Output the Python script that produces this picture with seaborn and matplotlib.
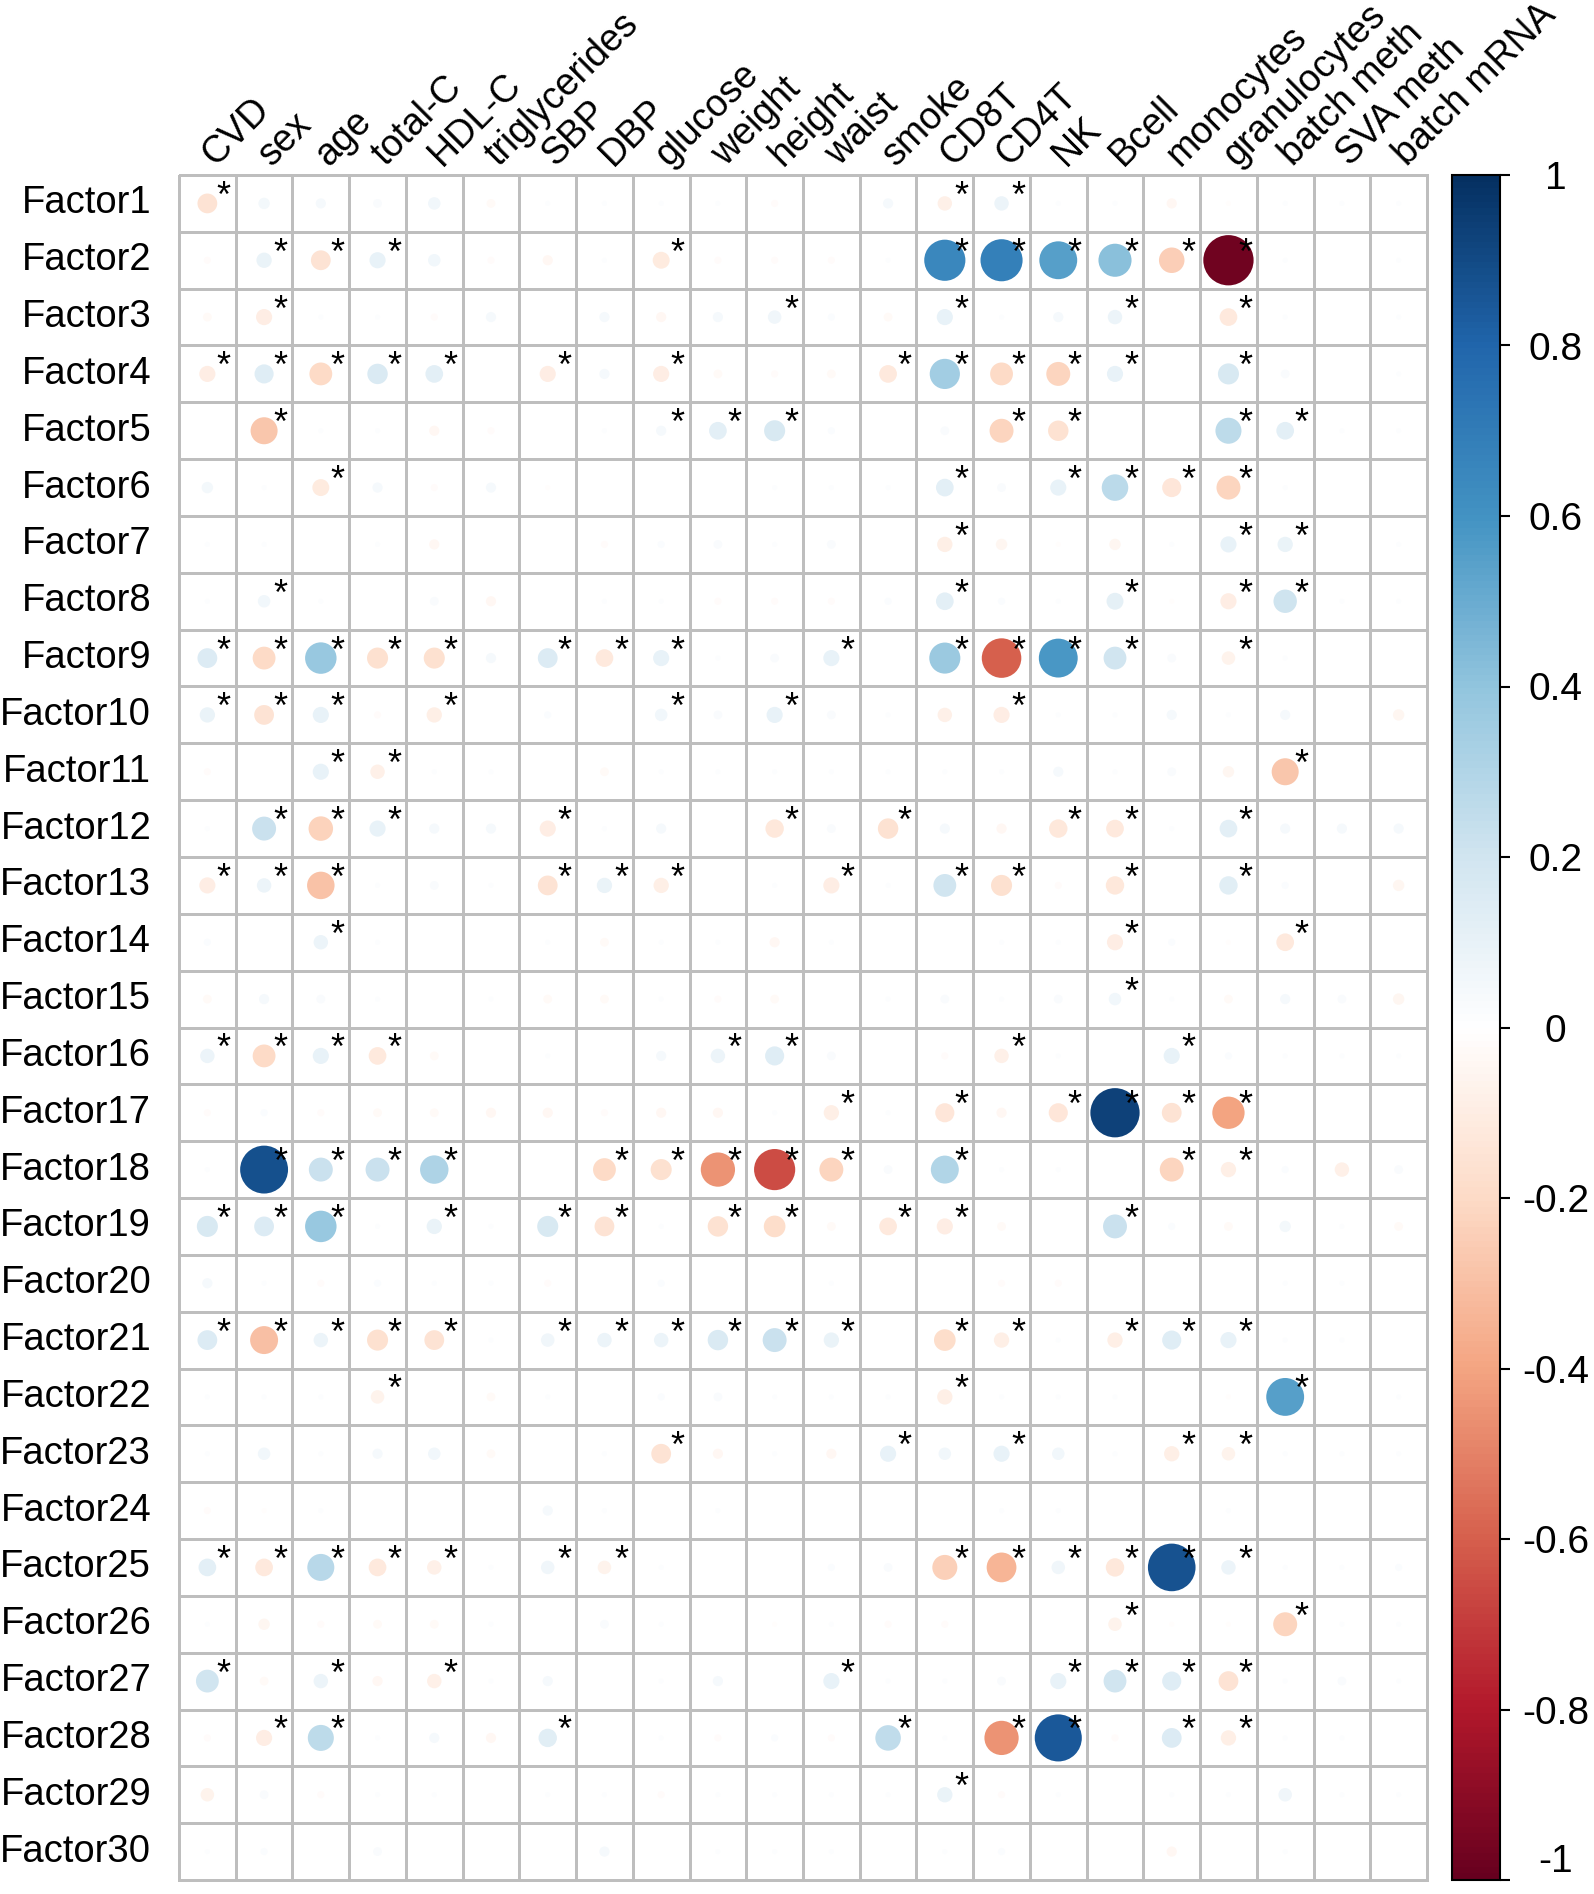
import matplotlib
matplotlib.use("Agg")
import matplotlib.pyplot as plt
import matplotlib.cm as cm
from matplotlib.colors import LinearSegmentedColormap, ListedColormap, Normalize
import numpy as np
import pandas as pd
import seaborn as sns

# column traits and row factors
traits = ["CVD", "sex", "age", "total-C", "HDL-C", "triglycerides", "SBP", "DBP",
          "glucose", "weight", "height", "waist", "smoke", "CD8T", "CD4T", "NK",
          "Bcell", "monocytes", "granulocytes", "batch meth", "SVA meth", "batch mRNA"]
factors = ["Factor%d" % i for i in range(1, 31)]

# correlation of each factor with each trait
corr = [
    [-0.15, 0.05, 0.04, 0.03, 0.06, -0.03, 0.01, 0.01, 0.01, 0.01, -0.02, 0.0, 0.04, -0.08, 0.08, 0.01, 0.01, -0.04, -0.01, 0.01, 0.01, 0.01],
    [-0.02, 0.09, -0.15, 0.1, 0.06, -0.02, -0.04, 0.01, -0.11, -0.02, -0.02, -0.02, 0.01, 0.65, 0.68, 0.55, 0.42, -0.25, -0.97, 0.01, 0.0, 0.01],
    [-0.03, -0.1, 0.01, 0.01, -0.02, 0.04, 0.0, 0.04, -0.04, 0.04, 0.07, 0.02, -0.03, 0.1, 0.01, 0.04, 0.08, 0.0, -0.12, 0.01, 0.0, 0.01],
    [-0.1, 0.14, -0.2, 0.16, 0.12, 0.0, -0.1, 0.04, -0.1, -0.03, -0.02, -0.03, -0.12, 0.35, -0.2, -0.22, 0.1, 0.0, 0.17, 0.03, 0.0, 0.01],
    [0.0, -0.28, 0.01, 0.01, -0.04, -0.02, 0.0, 0.01, 0.04, 0.12, 0.17, 0.02, 0.0, 0.03, -0.22, -0.16, 0.0, 0.0, 0.26, 0.12, 0.01, 0.01],
    [0.05, 0.01, -0.11, 0.04, -0.02, 0.04, -0.01, 0.0, 0.0, 0.0, 0.01, 0.01, 0.01, 0.12, 0.03, 0.1, 0.27, -0.14, -0.22, 0.01, 0.0, 0.0],
    [0.01, 0.01, 0.0, 0.01, -0.04, 0.0, 0.0, -0.02, 0.02, 0.03, 0.01, 0.03, 0.0, -0.09, -0.05, -0.01, -0.05, 0.01, 0.1, 0.09, 0.0, 0.01],
    [0.01, 0.06, 0.01, 0.0, 0.03, -0.04, 0.0, 0.01, 0.01, -0.02, -0.02, -0.02, 0.02, 0.12, 0.02, 0.01, 0.11, -0.01, -0.1, 0.21, 0.01, 0.01],
    [0.15, -0.2, 0.38, -0.17, -0.17, 0.04, 0.15, -0.12, 0.1, 0.01, 0.03, 0.1, 0.0, 0.37, -0.6, 0.58, 0.2, 0.03, -0.07, 0.01, 0.0, 0.0],
    [0.09, -0.15, 0.1, -0.02, -0.09, 0.0, 0.02, 0.0, 0.06, 0.03, 0.1, 0.03, 0.01, -0.08, -0.1, 0.01, 0.01, 0.04, 0.01, 0.04, 0.0, -0.05],
    [-0.02, 0.0, 0.1, -0.08, 0.01, 0.01, 0.0, -0.03, 0.01, 0.01, 0.01, 0.01, 0.01, 0.01, 0.01, 0.04, 0.01, 0.03, -0.05, -0.28, 0.0, 0.0],
    [0.01, 0.22, -0.23, 0.1, 0.04, 0.04, -0.1, 0.01, 0.04, 0.0, -0.13, 0.03, -0.16, 0.04, -0.04, -0.13, -0.12, 0.01, 0.12, 0.04, 0.04, 0.04],
    [-0.1, 0.08, -0.29, 0.01, 0.03, 0.01, -0.15, 0.09, -0.09, 0.0, 0.01, -0.1, 0.01, 0.2, -0.17, -0.02, -0.13, 0.0, 0.13, 0.02, 0.0, -0.05],
    [0.02, 0.0, 0.08, 0.01, 0.0, 0.0, 0.01, -0.03, 0.01, 0.01, -0.04, 0.01, 0.0, 0.0, 0.01, 0.01, -0.1, 0.02, -0.01, -0.12, 0.0, 0.0],
    [-0.03, 0.04, 0.03, 0.01, 0.0, 0.01, -0.03, -0.03, 0.01, -0.02, -0.03, 0.0, 0.01, 0.03, 0.01, 0.03, 0.06, 0.01, -0.03, 0.04, 0.03, -0.05],
    [0.08, -0.2, 0.1, -0.12, -0.03, 0.0, 0.01, 0.0, 0.04, 0.08, 0.14, 0.03, 0.0, -0.02, -0.08, 0.01, 0.0, 0.1, 0.02, 0.01, 0.01, 0.01],
    [-0.02, 0.02, -0.02, -0.03, -0.03, -0.04, -0.04, -0.02, -0.04, -0.04, 0.01, -0.09, 0.01, -0.14, -0.04, -0.14, 0.93, -0.15, -0.4, 0.0, 0.0, 0.0],
    [0.01, 0.88, 0.22, 0.22, 0.31, 0.0, 0.0, -0.2, -0.17, -0.45, -0.65, -0.22, 0.03, 0.3, 0.01, 0.01, 0.0, -0.22, -0.09, 0.02, -0.08, 0.03],
    [0.17, 0.15, 0.38, 0.01, 0.09, 0.01, 0.17, -0.15, 0.01, -0.16, -0.18, -0.03, -0.12, -0.1, -0.03, 0.0, 0.22, 0.02, -0.03, 0.05, 0.01, -0.03],
    [0.04, 0.01, -0.02, 0.02, 0.01, 0.01, -0.02, 0.0, 0.02, 0.0, 0.0, 0.01, 0.0, 0.0, -0.02, -0.02, 0.0, 0.0, 0.0, 0.01, 0.01, 0.0],
    [0.15, -0.3, 0.08, -0.17, -0.15, 0.01, 0.07, 0.08, 0.08, 0.16, 0.22, 0.09, 0.0, -0.18, -0.09, 0.01, -0.09, 0.14, 0.1, 0.01, 0.01, 0.0],
    [0.01, 0.01, 0.01, -0.07, 0.0, -0.03, 0.01, 0.0, 0.02, 0.03, 0.01, 0.01, 0.01, -0.09, 0.01, 0.01, 0.01, 0.0, -0.01, 0.55, 0.0, 0.01],
    [0.01, 0.06, 0.01, 0.04, 0.06, -0.03, 0.0, 0.01, -0.15, -0.04, 0.01, -0.04, 0.1, 0.06, 0.1, 0.06, 0.01, -0.09, -0.07, 0.01, 0.01, 0.01],
    [-0.02, -0.01, 0.01, 0.0, 0.0, 0.0, 0.04, 0.01, 0.0, 0.01, 0.0, 0.0, 0.0, 0.0, 0.01, 0.01, 0.0, 0.0, 0.01, 0.0, 0.0, 0.0],
    [0.12, -0.12, 0.28, -0.12, -0.08, 0.01, 0.07, -0.07, 0.01, 0.0, 0.0, 0.02, 0.03, -0.24, -0.34, 0.07, -0.13, 0.87, 0.08, 0.01, 0.01, 0.02],
    [0.01, -0.05, -0.02, -0.03, -0.03, 0.01, 0.0, 0.03, 0.01, 0.0, -0.01, 0.01, -0.02, -0.02, 0.0, 0.0, -0.07, -0.01, -0.01, -0.22, 0.01, 0.01],
    [0.2, -0.03, 0.08, -0.04, -0.08, 0.01, 0.04, 0.0, 0.01, 0.04, 0.0, 0.1, 0.01, 0.01, 0.03, 0.1, 0.2, 0.14, -0.15, 0.01, 0.03, 0.01],
    [-0.02, -0.1, 0.26, 0.01, 0.04, -0.04, 0.13, 0.0, 0.01, -0.02, 0.02, -0.02, 0.25, 0.01, -0.45, 0.85, -0.02, 0.15, -0.09, 0.01, 0.01, 0.0],
    [-0.07, 0.03, -0.02, 0.01, 0.01, 0.0, 0.01, 0.01, -0.02, 0.01, 0.01, 0.01, 0.01, 0.09, -0.02, 0.01, 0.0, 0.01, 0.01, 0.07, 0.01, 0.01],
    [0.01, 0.02, 0.0, 0.03, 0.0, 0.0, 0.0, 0.04, 0.0, 0.01, 0.01, 0.01, 0.0, 0.01, 0.02, 0.0, 0.0, -0.04, 0.0, 0.01, 0.0, 0.0],
]

# columns marked significant (*) in each factor row
sig = [
    [0, 13, 14],
    [1, 2, 3, 8, 13, 14, 15, 16, 17, 18],
    [1, 10, 13, 16, 18],
    [0, 1, 2, 3, 4, 6, 8, 12, 13, 14, 15, 16, 18],
    [1, 8, 9, 10, 14, 15, 18, 19],
    [2, 13, 15, 16, 17, 18],
    [13, 18, 19],
    [1, 13, 16, 18, 19],
    [0, 1, 2, 3, 4, 6, 7, 8, 11, 13, 14, 15, 16, 18],
    [0, 1, 2, 4, 8, 10, 14],
    [2, 3, 19],
    [1, 2, 3, 6, 10, 12, 15, 16, 18],
    [0, 1, 2, 6, 7, 8, 11, 13, 14, 16, 18],
    [2, 16, 19],
    [16],
    [0, 1, 2, 3, 9, 10, 14, 17],
    [11, 13, 15, 16, 17, 18],
    [1, 2, 3, 4, 7, 8, 9, 10, 11, 13, 17, 18],
    [0, 1, 2, 4, 6, 7, 9, 10, 12, 13, 16],
    [],
    [0, 1, 2, 3, 4, 6, 7, 8, 9, 10, 11, 13, 14, 16, 17, 18],
    [3, 13, 19],
    [8, 12, 14, 17, 18],
    [],
    [0, 1, 2, 3, 4, 6, 7, 13, 14, 15, 16, 17, 18],
    [16, 19],
    [0, 2, 4, 11, 15, 16, 17, 18],
    [1, 2, 6, 12, 14, 15, 17, 18],
    [13],
    [],
]

cbar_ticks = [-1, -0.8, -0.6, -0.4, -0.2, 0, 0.2, 0.4, 0.6, 0.8, 1]
cbar_labels = ["-1", "-0.8", "-0.6", "-0.4", "-0.2", "0", "0.2", "0.4", "0.6", "0.8", "1"]

sns.set_theme(style="white")
plt.rcParams["font.family"] = ["Liberation Sans", "DejaVu Sans"]
plt.rcParams["axes.unicode_minus"] = False

# corrplot-style RdBu with a pure white middle
rdbu = LinearSegmentedColormap.from_list(
    "rdbu_corrplot",
    ["#67001F", "#B2182B", "#D6604D", "#F4A582", "#FDDBC7", "#FFFFFF",
     "#D1E5F0", "#92C5DE", "#4393C3", "#2166AC", "#053061"])

W, H = 1594, 1894
fig = plt.figure(figsize=(W / 100, H / 100), dpi=100)
ax = fig.add_axes([179 / W, 1 - 1880 / H, 1248 / W, 1705 / H])
cax = fig.add_axes([1452 / W, 1 - 1880 / H, 48 / W, 1705 / H])

# white grid with grey cell borders
blank = pd.DataFrame(np.zeros((len(factors), len(traits))), index=factors, columns=traits)
sns.heatmap(blank, ax=ax, cmap=ListedColormap(["white"]), cbar=False,
            linewidths=1.8, linecolor="#BEBEBE", xticklabels=False, yticklabels=True)
ax.collections[0].set_clip_on(False)

# circles: area proportional to |r|
long = blank.copy()
long.loc[:, :] = np.array(corr)
long = long.reset_index().melt(id_vars="index", var_name="trait", value_name="r")
long["x"] = long["trait"].map({t: k + 0.5 for k, t in enumerate(traits)})
long["y"] = long["index"].map({f: k + 0.5 for k, f in enumerate(factors)})
long["size"] = long["r"].abs()

cell_pt = 1248 / len(traits) * 72 / 100
sns.scatterplot(data=long, x="x", y="y", hue="r", palette=rdbu, hue_norm=(-1, 1),
                size="size", sizes=(0, (0.9 * cell_pt) ** 2), size_norm=(0, 1),
                linewidth=0, legend=False, ax=ax, zorder=3)

# significance stars
for i, cols in enumerate(sig):
    for j in cols:
        ax.text(j + 0.5 + 0.29, i + 0.56, "*", ha="center", va="baseline",
                fontsize=26, color="black", zorder=4)

ax.set_xlim(0, len(traits))
ax.set_ylim(len(factors), 0)
ax.set_xlabel("")
ax.set_ylabel("")
ax.set_yticks(np.arange(len(factors)) + 0.5)
ax.set_yticklabels(factors, rotation=0, fontsize=27.5, color="black")
ax.tick_params(axis="y", length=0, pad=20)

for j, t in enumerate(traits):
    ax.text(j + 0.64, -0.14, t, rotation=45, rotation_mode="anchor",
            ha="left", va="baseline", fontsize=27, color="black", clip_on=False)

# colour legend
sm = cm.ScalarMappable(norm=Normalize(-1, 1), cmap=rdbu)
cb = fig.colorbar(sm, cax=cax, ticks=cbar_ticks)
cb.set_ticklabels(cbar_labels)
cb.outline.set_linewidth(1.5)
cb.outline.set_edgecolor("black")
cax.tick_params(length=7, width=1.5, labelsize=28, pad=33, colors="black")
for lab in cax.get_yticklabels():
    lab.set_horizontalalignment("center")
cax.get_yticklabels()[0].set_verticalalignment("bottom")

fig.savefig("out.png", dpi=100)
